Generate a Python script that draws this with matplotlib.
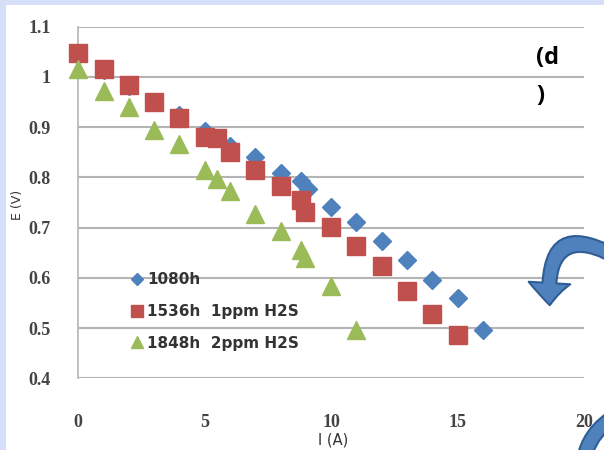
import numpy as np
import matplotlib
matplotlib.use("Agg")
import matplotlib.pyplot as plt
from matplotlib.patches import Rectangle, FancyArrowPatch
from matplotlib.lines import Line2D

# data
i_1080 = [0, 1, 2, 3, 4, 5, 6, 7, 8, 8.8, 9.1, 10, 11, 12, 13, 14, 15, 16]
e_1080 = [1.043, 1.013, 0.982, 0.950, 0.925, 0.892, 0.862, 0.840, 0.809, 0.792,
          0.776, 0.742, 0.712, 0.673, 0.636, 0.595, 0.559, 0.497]

i_1536 = [0, 1, 2, 3, 4, 5, 5.5, 6, 7, 8, 8.8, 8.95, 10, 11, 12, 13, 14, 15]
e_1536 = [1.047, 1.015, 0.984, 0.951, 0.918, 0.881, 0.879, 0.851, 0.815, 0.782,
          0.755, 0.732, 0.702, 0.664, 0.623, 0.573, 0.528, 0.487]

i_1848 = [0, 1, 2, 3, 4, 5, 5.5, 6, 7, 8, 8.8, 8.95, 10, 11]
e_1848 = [1.016, 0.972, 0.940, 0.895, 0.866, 0.815, 0.796, 0.773, 0.727, 0.694,
          0.656, 0.640, 0.583, 0.497]

labels = ["1080h", "1536h  1ppm H2S", "1848h  2ppm H2S"]
x_ticks = [0, 5, 10, 15, 20]
y_ticks = [0.4, 0.5, 0.6, 0.7, 0.8, 0.9, 1.0, 1.1]
y_ticklabels = ["0.4", "0.5", "0.6", "0.7", "0.8", "0.9", "1", "1.1"]

blue, red, green = "#4f81bd", "#c0504d", "#9bbb59"

W, H = 604, 450
fig = plt.figure(figsize=(W / 100, H / 100), dpi=100)
fig.patch.set_facecolor("#d6def8")
# white slide area
fig.add_artist(Rectangle((6 / W, 0), 1, 445 / H, transform=fig.transFigure,
                         facecolor="white", edgecolor="none", zorder=0))

ax = fig.add_axes([78.3 / W, 1 - 378.3 / H, (584 - 78.3) / W, (378.3 - 26.7) / H])
ax.set_facecolor("none")

ax.plot(i_1080, e_1080, "D", color=blue, markersize=9.5, mec=blue, zorder=3, clip_on=False)
ax.plot(i_1536, e_1536, "s", color=red, markersize=12.5, mec=red, zorder=4, clip_on=False)
ax.plot(i_1848, e_1848, "^", color=green, markersize=12.5, mec=green, zorder=5, clip_on=False)

ax.set_xlim(0, 20)
ax.set_ylim(0.4, 1.1)
ax.set_xticks(x_ticks)
ax.set_yticks(y_ticks)
ax.set_yticklabels(y_ticklabels)
ax.grid(axis="y", color="#b4b4b4", linewidth=1.5, zorder=0)
ax.set_axisbelow(True)
for s in ["top", "right", "bottom"]:
    ax.spines[s].set_visible(False)
ax.spines["left"].set_color("#b4b4b4")
ax.spines["left"].set_linewidth(1.2)
ax.tick_params(length=0)
ax.tick_params(axis="x", pad=26)
ax.tick_params(axis="y", pad=20)
for t in ax.get_xticklabels() + ax.get_yticklabels():
    t.set_fontfamily("Liberation Serif")
    t.set_fontweight("bold")
    t.set_fontsize(13)
    t.set_color("#444444")

fig.text(333 / W, 1 - 440 / H, "I (A)", fontsize=10.5, color="#333333",
         ha="center", va="center")
fig.text(18 / W, 1 - 205 / H, "E (V)", rotation=90, fontsize=9, color="#333333",
         ha="center", va="center")

handles = [Line2D([], [], ls="none", marker="D", ms=6.5, color=blue),
           Line2D([], [], ls="none", marker="s", ms=8, color=red),
           Line2D([], [], ls="none", marker="^", ms=8.5, color=green)]
leg = ax.legend(handles, labels, loc="center left", bbox_to_anchor=(0.105, 0.19),
                frameon=False, handlelength=0.7, handletextpad=0.35,
                labelspacing=1.1, borderpad=0, borderaxespad=0,
                prop={"family": "DejaVu Sans", "weight": "bold", "size": 11})
for t in leg.get_texts():
    t.set_color("#333333")

fig.text(536 / W, 1 - 58 / H, "(d", fontsize=17, fontweight="bold",
         family="Open Sans", ha="left", va="center")
fig.text(536 / W, 1 - 96 / H, ")", fontsize=17, fontweight="bold",
         family="Open Sans", ha="left", va="center")

# decorative curved arrows
arrow_kw = dict(transform=fig.transFigure, mutation_scale=1, facecolor=blue,
                edgecolor="#2f5d94", linewidth=1.5, zorder=10)
fig.add_artist(FancyArrowPatch((625 / W, 1 - 262 / H), (550 / W, 1 - 308 / H),
                               arrowstyle="simple,head_width=30,head_length=16,tail_width=10",
                               connectionstyle="arc3,rad=1.0", **arrow_kw))
fig.add_artist(FancyArrowPatch((640 / W, 1 - 405 / H), (585 / W, 1 - 500 / H),
                               arrowstyle="simple,head_width=30,head_length=16,tail_width=10",
                               connectionstyle="arc3,rad=0.45", **arrow_kw))

fig.savefig("out.png", dpi=100, facecolor=fig.get_facecolor())
